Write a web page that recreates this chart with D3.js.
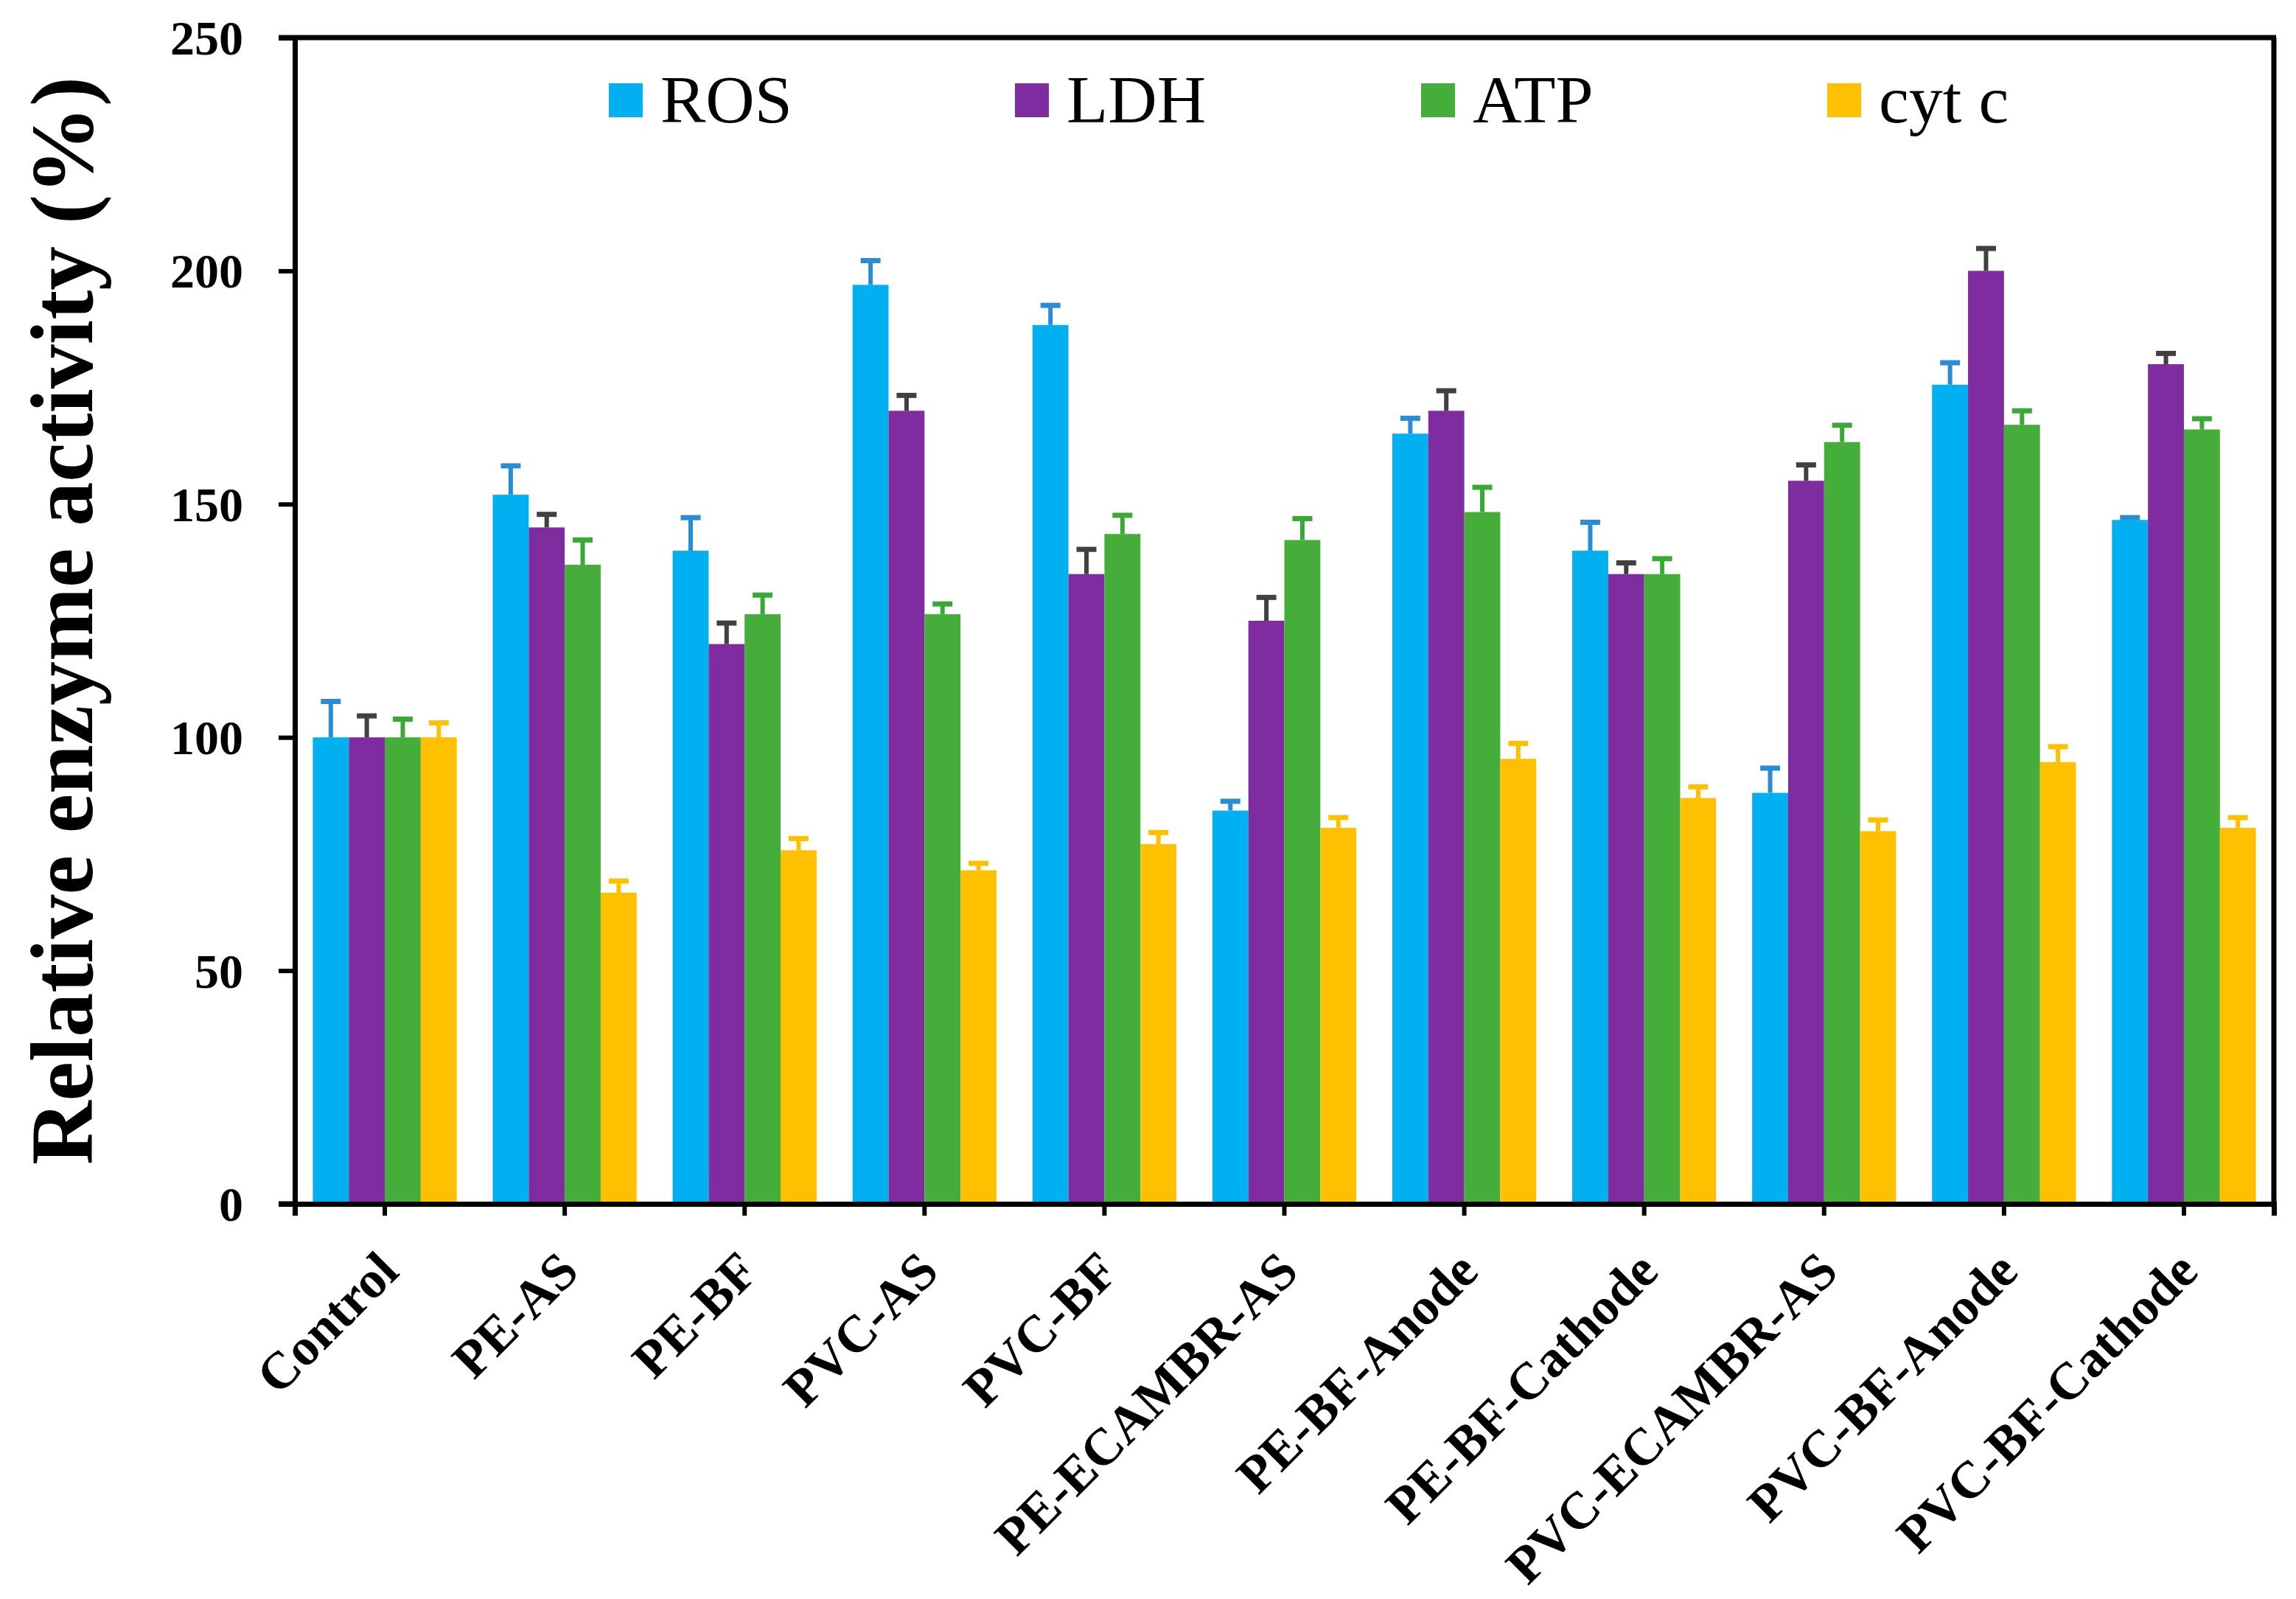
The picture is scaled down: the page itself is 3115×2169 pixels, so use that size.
<!DOCTYPE html>
<html>
<head>
<meta charset="utf-8">
<script src="https://cdn.jsdelivr.net/npm/d3@7"></script>
<style>
  html, body { margin: 0; padding: 0; background: #fff; }
  svg { display: block; }
</style>
</head>
<body>
<svg id="chart" width="3115" height="2169"></svg>
<script>
const categories = ["Control", "PE-AS", "PE-BF", "PVC-AS", "PVC-BF", "PE-ECAMBR-AS",
  "PE-BF-Anode", "PE-BF-Cathode", "PVC-ECAMBR-AS", "PVC-BF-Anode", "PVC-BF-Cathode"];
const seriesNames = ["ROS", "LDH", "ATP", "cyt c"];
const rosValues  = [100, 152, 140, 197, 188.4, 84.3, 165.1, 140, 88.1, 175.6, 146.6];
const rosErrors  = [7.7, 6.2, 7.1, 5.2, 4.2, 2.0, 3.3, 6.1, 5.3, 4.7, 0.5];
const ldhValues  = [100, 145, 120, 170, 135, 125, 170, 135, 155, 200, 180];
const ldhErrors  = [4.6, 2.8, 4.5, 3.3, 5.3, 5.0, 4.3, 2.4, 3.4, 4.8, 2.3];
const atpValues  = [100, 137, 126.4, 126.4, 143.6, 142.3, 148.3, 135, 163.3, 167, 166];
const atpErrors  = [3.9, 5.3, 4.1, 2.2, 4.0, 4.6, 5.3, 3.3, 3.6, 3.0, 2.3];
const cytcValues = [100, 66.7, 75.8, 71.5, 77.1, 80.6, 95.4, 87, 79.9, 94.7, 80.6];
const cytcErrors = [3.1, 2.5, 2.5, 1.5, 2.5, 2.2, 3.3, 2.4, 2.4, 3.3, 2.2];
const yTicks = [0, 50, 100, 150, 200, 250];
const yTitle = "Relative enzyme activity (%)";

const barColors = ["#00b0f0", "#7f2ca0", "#45ad3a", "#ffc000"];
const errColors = ["#2a8dd4", "#404040", "#3aa835", "#ffc000"];

const seriesData = [
  { name: seriesNames[0], values: rosValues, errors: rosErrors },
  { name: seriesNames[1], values: ldhValues, errors: ldhErrors },
  { name: seriesNames[2], values: atpValues, errors: atpErrors },
  { name: seriesNames[3], values: cytcValues, errors: cytcErrors }
];

const FONT = "'Liberation Serif', 'Times New Roman', Times, serif";
const svg = d3.select("#chart");
svg.append("rect").attr("width", 3115).attr("height", 2169).attr("fill", "#fff");

const plot = { left: 400, right: 3085, top: 51, bottom: 1633 };

const x0 = d3.scaleBand().domain(categories).range([plot.left, plot.right]).paddingInner(0.2).paddingOuter(0.1);
const xCenter = d3.scaleBand().domain(categories).range([plot.left, plot.right]);
const x1 = d3.scaleBand().domain(seriesNames).range([0, x0.bandwidth()]);
const y = d3.scaleLinear().domain([0, 250]).range([plot.bottom, plot.top]);

// Bars
const groups = svg.append("g").selectAll("g")
  .data(categories).join("g")
  .attr("transform", c => `translate(${x0(c)},0)`);

seriesData.forEach((s, si) => {
  groups.append("rect")
    .attr("x", x1(s.name))
    .attr("width", x1.bandwidth())
    .attr("y", (c, i) => y(s.values[i]))
    .attr("height", (c, i) => y(0) - y(s.values[i]))
    .attr("fill", barColors[si]);
});

// Error bars (upper only)
seriesData.forEach((s, si) => {
  const cx = x1(s.name) + x1.bandwidth() / 2;
  const capW = 27;
  groups.append("line")
    .attr("x1", cx).attr("x2", cx)
    .attr("y1", (c, i) => y(s.values[i]))
    .attr("y2", (c, i) => y(s.values[i] + s.errors[i]))
    .attr("stroke", errColors[si]).attr("stroke-width", 6);
  groups.append("line")
    .attr("x1", cx - capW / 2).attr("x2", cx + capW / 2)
    .attr("y1", (c, i) => y(s.values[i] + s.errors[i]))
    .attr("y2", (c, i) => y(s.values[i] + s.errors[i]))
    .attr("stroke", errColors[si]).attr("stroke-width", 7);
});

// Y axis
const yAxis = d3.axisLeft(y).tickValues(yTicks).tickSize(22).tickPadding(48).tickFormat(d3.format("d"));
const yg = svg.append("g").attr("transform", `translate(${plot.left},0)`).call(yAxis);
yg.select(".domain").attr("stroke", "#000").attr("stroke-width", 7);
yg.selectAll(".tick line").attr("stroke", "#000").attr("stroke-width", 6);
yg.selectAll(".tick text")
  .attr("font-family", FONT).attr("font-weight", "bold").attr("font-size", 66)
  .attr("fill", "#000").attr("dy", "0.34em");

// X axis
const xAxis = d3.axisBottom(xCenter).tickSize(16).tickFormat("");
const xg = svg.append("g").attr("transform", `translate(0,${plot.bottom})`).call(xAxis);
xg.select(".domain").attr("stroke", "#000").attr("stroke-width", 7);
xg.selectAll(".tick line").attr("stroke", "#000").attr("stroke-width", 6);
xg.append("line").attr("x1", plot.right).attr("x2", plot.right).attr("y1", 0).attr("y2", 16)
  .attr("stroke", "#000").attr("stroke-width", 6);
xg.append("line").attr("x1", plot.left - 22).attr("x2", plot.left).attr("y1", 0).attr("y2", 0)
  .attr("stroke", "#000").attr("stroke-width", 7);

// Rotated category labels
svg.append("g").selectAll("text")
  .data(categories).join("text")
  .attr("transform", c => `translate(${xCenter(c) + xCenter.bandwidth() / 2 + 22},${plot.bottom + 95}) rotate(-45)`)
  .attr("text-anchor", "end")
  .attr("font-family", FONT).attr("font-weight", "bold").attr("font-size", 71)
  .attr("fill", "#000")
  .text(c => c);

// Frame top & right
svg.append("line").attr("x1", plot.left - 22).attr("x2", plot.right + 3).attr("y1", plot.top).attr("y2", plot.top)
  .attr("stroke", "#000").attr("stroke-width", 7);
svg.append("line").attr("x1", plot.right).attr("x2", plot.right).attr("y1", plot.top).attr("y2", plot.bottom)
  .attr("stroke", "#000").attr("stroke-width", 7);

// Y title
svg.append("text")
  .attr("transform", `translate(125,${(plot.top + plot.bottom) / 2}) rotate(-90)`)
  .attr("text-anchor", "middle")
  .attr("font-family", FONT).attr("font-weight", "bold").attr("font-size", 120)
  .attr("fill", "#000")
  .text(yTitle);

// Legend
const legend = svg.append("g").selectAll("g")
  .data(seriesNames).join("g")
  .attr("transform", (d, i) => `translate(${826 + i * 551},0)`);
legend.append("rect").attr("x", 0).attr("y", 113).attr("width", 46).attr("height", 46)
  .attr("fill", (d, i) => barColors[i]);
legend.append("text").attr("x", 70).attr("y", 166)
  .attr("font-family", FONT).attr("font-size", 92).attr("fill", "#000")
  .text(d => d);
</script>
</body>
</html>
